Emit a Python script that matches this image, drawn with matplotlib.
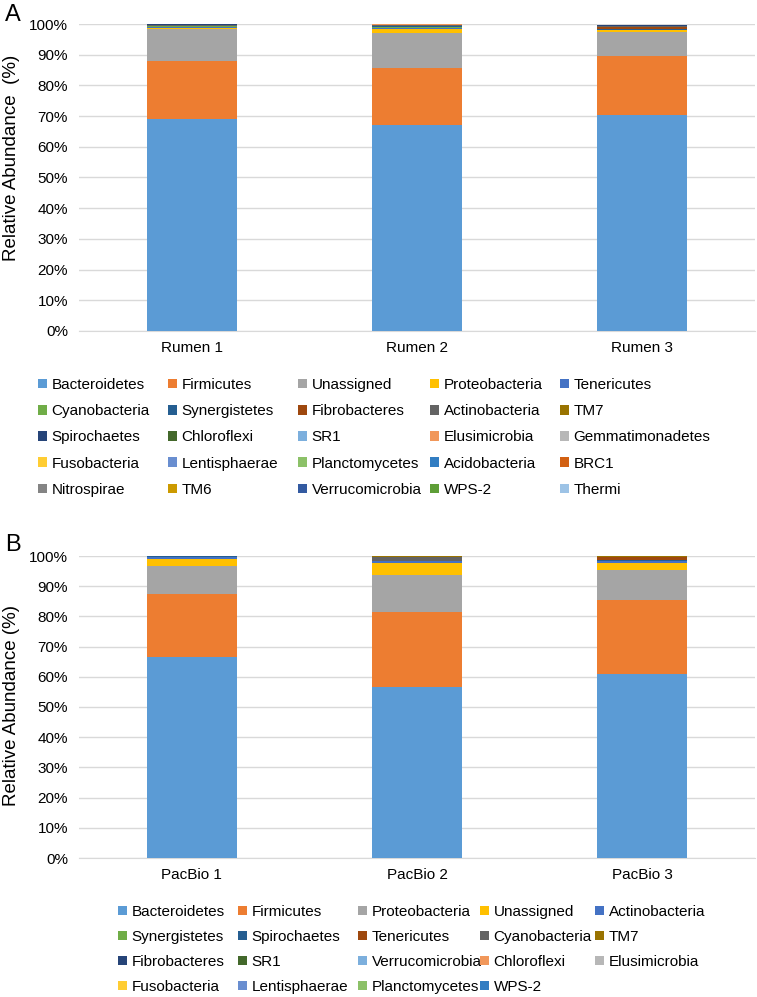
import numpy as np
import matplotlib
matplotlib.use("Agg")
import matplotlib.pyplot as plt
from matplotlib.patches import Patch

plt.rcParams['font.family'] = ['Liberation Sans', 'DejaVu Sans']

# Excel office palette, used in series order
palette = ['#5B9BD5', '#ED7D31', '#A5A5A5', '#FFC000', '#4472C4', '#70AD47',
           '#255E91', '#9E480E', '#636363', '#997300', '#264478', '#43682B',
           '#7CAFDD', '#F1975A', '#B7B7B7', '#FFCD33', '#698ED0', '#8CC168',
           '#327DC2', '#D26012', '#848484', '#CC9A00', '#335AA1', '#5E9E37',
           '#9DC3E6']

# ---- panel A data (percent) ----
rumen_samples = ['Rumen 1', 'Rumen 2', 'Rumen 3']
rumen_phyla = ['Bacteroidetes', 'Firmicutes', 'Unassigned', 'Proteobacteria', 'Tenericutes',
               'Cyanobacteria', 'Synergistetes', 'Fibrobacteres', 'Actinobacteria', 'TM7',
               'Spirochaetes', 'Chloroflexi', 'SR1', 'Elusimicrobia', 'Gemmatimonadetes',
               'Fusobacteria', 'Lentisphaerae', 'Planctomycetes', 'Acidobacteria', 'BRC1',
               'Nitrospirae', 'TM6', 'Verrucomicrobia', 'WPS-2', 'Thermi']
rumen_values = [
    [69.0, 67.2, 70.4],
    [18.8, 18.5, 19.1],
    [10.5, 11.4, 7.9],
    [0.3, 1.4, 0.6],
    [0.3, 0.1, 0.1],
    [0.3, 0.3, 0.1],
    [0.2, 0.3, 0.3],
    [0.05, 0.3, 0.5],
    [0.3, 0.1, 0.3],
    [0.05, 0.05, 0.05],
    [0.1, 0.1, 0.2],
    [0.02, 0.05, 0.05],
    [0.02, 0.02, 0.02],
    [0.02, 0.1, 0.05],
    [0.01, 0.01, 0.01],
    [0.01, 0.02, 0.01],
    [0.01, 0.02, 0.02],
    [0.01, 0.01, 0.01],
    [0.01, 0.01, 0.01],
    [0.01, 0.01, 0.01],
    [0.01, 0.01, 0.01],
    [0.01, 0.01, 0.01],
    [0.01, 0.01, 0.01],
    [0.01, 0.01, 0.01],
    [0.01, 0.01, 0.01],
]

# ---- panel B data (percent) ----
pacbio_samples = ['PacBio 1', 'PacBio 2', 'PacBio 3']
pacbio_phyla = ['Bacteroidetes', 'Firmicutes', 'Proteobacteria', 'Unassigned', 'Actinobacteria',
                'Synergistetes', 'Spirochaetes', 'Tenericutes', 'Cyanobacteria', 'TM7',
                'Fibrobacteres', 'SR1', 'Verrucomicrobia', 'Chloroflexi', 'Elusimicrobia',
                'Fusobacteria', 'Lentisphaerae', 'Planctomycetes', 'WPS-2']
pacbio_values = [
    [66.5, 56.5, 61.0],
    [21.0, 25.0, 24.5],
    [9.1, 12.2, 9.9],
    [2.3, 4.1, 2.4],
    [0.8, 0.4, 0.4],
    [0.05, 0.1, 0.1],
    [0.1, 0.1, 0.5],
    [0.05, 0.1, 0.8],
    [0.05, 1.3, 0.2],
    [0.05, 0.05, 0.3],
    [0.02, 0.02, 0.02],
    [0.02, 0.02, 0.02],
    [0.01, 0.05, 0.01],
    [0.01, 0.01, 0.01],
    [0.01, 0.01, 0.01],
    [0.01, 0.01, 0.01],
    [0.01, 0.01, 0.01],
    [0.01, 0.01, 0.01],
    [0.01, 0.01, 0.01],
]

W, H = 757, 997
fig = plt.figure(figsize=(W / 100, H / 100), dpi=100)


def px_axes(left, top, right, bottom):
    return fig.add_axes([left / W, 1 - bottom / H, (right - left) / W, (bottom - top) / H])


def stacked(ax, samples, phyla, values, ylabel, label_y):
    x = np.arange(len(samples))
    base = np.zeros(len(samples))
    for i, name in enumerate(phyla):
        v = np.array(values[i])
        ax.bar(x, v, 0.4, bottom=base, color=palette[i], label=name, zorder=3)
        base += v
    ax.set_xlim(-0.5, len(samples) - 0.5)
    ax.set_ylim(0, 100)
    ax.set_yticks(np.arange(0, 101, 10))
    ax.set_yticklabels(['%d%%' % t for t in range(0, 101, 10)])
    ax.set_xticks(x)
    ax.set_xticklabels(samples)
    ax.tick_params(length=0, labelsize=11, pad=8)
    ax.tick_params(axis='x', pad=7)
    ax.grid(axis='y', color='#D9D9D9', linewidth=1, zorder=0)
    for s in ['top', 'right', 'left']:
        ax.spines[s].set_visible(False)
    ax.spines['bottom'].set_color('#D9D9D9')
    ax.set_ylabel(ylabel, fontsize=13.5)
    ax.yaxis.set_label_coords(-0.087, label_y)


def legend_cols(phyla, xs, top, spacing):
    ncol = len(xs)
    for c in range(ncol):
        idx = list(range(c, len(phyla), ncol))
        handles = [Patch(facecolor=palette[i], edgecolor='none') for i in idx]
        labels = [phyla[i] for i in idx]
        fig.legend(handles, labels, loc='upper left',
                   bbox_to_anchor=(xs[c] / W, 1 - top / H), frameon=False,
                   fontsize=11, handlelength=0.6, handleheight=0.6,
                   handletextpad=0.3, labelspacing=spacing, borderpad=0, borderaxespad=0)


axA = px_axes(79, 24, 755, 331)
stacked(axA, rumen_samples, rumen_phyla, rumen_values, 'Relative Abundance  (%)', 0.565)
fig.text(5 / W, 1 - 4 / H, 'A', fontsize=17, va='top', ha='left')
legend_cols(rumen_phyla, [38, 168, 298, 430, 560], 378, 0.8)

axB = px_axes(79, 556, 755, 858)
stacked(axB, pacbio_samples, pacbio_phyla, pacbio_values, 'Relative Abundance (%)', 0.505)
fig.text(5 / W, 1 - 534 / H, 'B', fontsize=17, va='top', ha='left')
legend_cols(pacbio_phyla, [118, 238, 358, 480, 595], 905, 0.72)

fig.savefig('out.png', dpi=100)
